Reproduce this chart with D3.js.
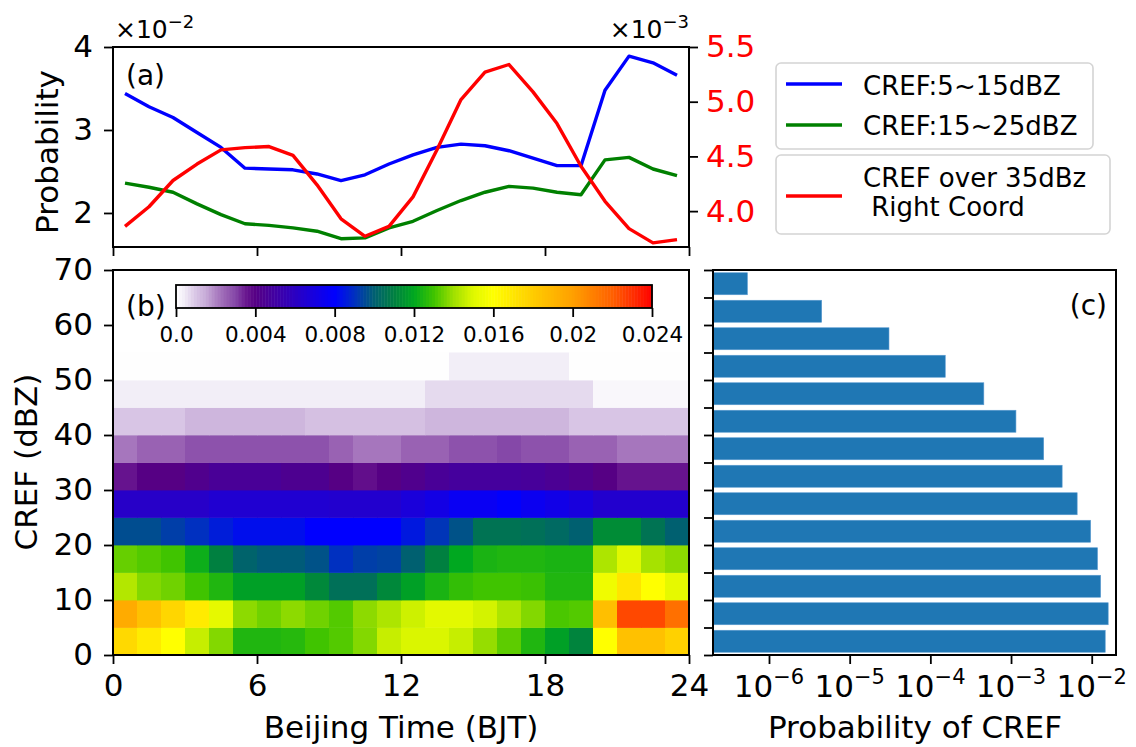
<!DOCTYPE html>
<html><head><meta charset="utf-8">
<script src="https://cdn.jsdelivr.net/npm/d3@7"></script>
<style>
body{margin:0;background:#fff}
svg{display:block}
text{font-family:"DejaVu Sans",sans-serif}
</style>
</head><body>
<svg id="c" width="1136" height="747"></svg>
<script>
// ---------- DATA ----------
const hours = d3.range(24).map(h => h + 0.5);               // hour centres (BJT)
// panel (a): probabilities (left axis in units of 1e-2, right axis in units of 1e-3)
const blue5to15 = [3.44,3.28,3.15,2.97,2.79,2.54,2.53,2.52,2.47,2.39,2.46,2.59,2.70,2.79,2.83,2.81,2.75,2.66,2.57,2.57,3.48,3.89,3.81,3.66];
const green15to25 = [2.36,2.31,2.25,2.11,1.98,1.87,1.85,1.82,1.78,1.69,1.70,1.82,1.90,2.03,2.15,2.25,2.32,2.30,2.25,2.22,2.64,2.67,2.53,2.45];
const red35 = [3.86,4.04,4.28,4.43,4.56,4.58,4.59,4.51,4.24,3.93,3.77,3.86,4.13,4.56,5.02,5.27,5.34,5.09,4.80,4.41,4.09,3.84,3.71,3.74];
const legendLabels = ["CREF:5~15dBZ","CREF:15~25dBZ"];
const legendLabelRed = ["CREF over 35dBz"," Right Coord"];
const leftTicks = [2,3,4];
const rightTicks = [4.0,4.5,5.0,5.5];
const timeTicks = [0,6,12,18,24];

// panel (b): probability per hour (columns) and 5-dBZ bin (rows, lower edge)
const heatBins = [0,5,10,15,20,25,30,35,40,45,50];
const heat0 = [0.0175,0.0168,0.0160,0.0146,0.0137,0.0125,0.0125,0.0126,0.0130,0.0132,0.0137,0.0146,0.0149,0.0149,0.0146,0.0139,0.0133,0.0125,0.0118,0.0111,0.0160,0.0185,0.0185,0.0178];
const heat5 = [0.0195,0.0185,0.0176,0.0168,0.0152,0.0138,0.0135,0.0138,0.0135,0.0132,0.0138,0.0142,0.0147,0.0151,0.0151,0.0148,0.0142,0.0137,0.0131,0.0132,0.0186,0.0225,0.0225,0.0215];
const heat10 = [0.0143,0.0137,0.0135,0.0130,0.0125,0.0118,0.0118,0.0118,0.0112,0.0105,0.0105,0.0112,0.0118,0.0124,0.0128,0.0130,0.0130,0.0129,0.0125,0.0125,0.0155,0.0170,0.0160,0.0152];
const heat15 = [0.0134,0.0132,0.0130,0.0122,0.0110,0.0101,0.0099,0.0099,0.0097,0.0090,0.0093,0.0094,0.0100,0.0110,0.0120,0.0124,0.0125,0.0125,0.0124,0.0124,0.0142,0.0150,0.0141,0.0138];
const heat20 = [0.0096,0.0096,0.0093,0.0090,0.0086,0.0083,0.0083,0.0083,0.0080,0.0080,0.0080,0.0080,0.0085,0.0091,0.0097,0.0106,0.0106,0.0105,0.0103,0.0100,0.0113,0.0113,0.0106,0.0100];
const heat25 = [0.0062,0.0062,0.0062,0.0062,0.0065,0.0065,0.0065,0.0065,0.0065,0.0064,0.0064,0.0064,0.0068,0.0071,0.0076,0.0076,0.0079,0.0075,0.0072,0.0069,0.0064,0.0064,0.0064,0.0064];
const heat30 = [0.0036,0.0040,0.0040,0.0043,0.0046,0.0046,0.0046,0.0044,0.0044,0.0040,0.0037,0.0040,0.0043,0.0046,0.0048,0.0048,0.0048,0.0047,0.0045,0.0043,0.0040,0.0036,0.0036,0.0036];
const heat35 = [0.0022,0.0025,0.0025,0.0028,0.0028,0.0028,0.0028,0.0028,0.0028,0.0025,0.0022,0.0022,0.0025,0.0025,0.0028,0.0028,0.0030,0.0028,0.0028,0.0025,0.0025,0.0022,0.0022,0.0022];
const heat40 = [0.0010,0.0010,0.0010,0.0013,0.0013,0.0013,0.0013,0.0013,0.0011,0.0011,0.0011,0.0011,0.0011,0.0013,0.0013,0.0013,0.0013,0.0013,0.0013,0.0010,0.0010,0.0010,0.0010,0.0010];
const heat45 = [0.0004,0.0004,0.0004,0.0004,0.0004,0.0004,0.0004,0.0004,0.0004,0.0004,0.0004,0.0004,0.0004,0.0007,0.0007,0.0007,0.0007,0.0007,0.0007,0.0007,0.0002,0.0002,0.0002,0.0002];
const heat50 = [0.00003,0.00003,0.00003,0.00003,0.00003,0.00003,0.00003,0.00003,0.00003,0.00003,0.00003,0.00003,0.00003,0.00003,0.0004,0.0004,0.0004,0.0004,0.0004,0.00003,0.00003,0.00003,0.00003,0.00003];
const heatRows = [heat0,heat5,heat10,heat15,heat20,heat25,heat30,heat35,heat40,heat45,heat50];
const crefTicks = [0,10,20,30,40,50,60,70];
const cbarTicks = [0,0.004,0.008,0.012,0.016,0.02,0.024];
const cbarTickLabels = ["0.0","0.004","0.008","0.012","0.016","0.02","0.024"];

// panel (c): probability of each 5-dBZ CREF bin
const barBins = [0,5,10,15,20,25,30,35,40,45,50,55,60,65];
const barProb = [1.47e-2,1.60e-2,1.29e-2,1.18e-2,9.7e-3,6.6e-3,4.3e-3,2.54e-3,1.15e-3,4.6e-4,1.53e-4,3.07e-5,4.5e-6,5.4e-7];
const logTicks = [1e-6,1e-5,1e-4,1e-3,1e-2];

// colormap
const cmapStops = [0,0.0004,0.001,0.0015,0.002,0.0025,0.003,0.0035,0.004,0.006,0.008,0.009,0.010,0.011,0.012,0.013,0.014,0.015,0.016,0.018,0.020,0.022,0.024];
const cmapColors = ["#ffffff","#f2eef7","#d8c5e5","#c8acd8","#ae84c4","#9962b3","#8548a8","#6a1890","#560084","#2b00c2","#0000ff","#0030c0","#006070","#008040","#00a820","#40c400","#a0e000","#e0f800","#ffff00","#ffcc00","#ffa000","#ff6000","#ff0000"];

// ---------- DRAW ----------
const svg = d3.select("#c");
const FS = 31;
const color = d3.scaleLinear().domain(cmapStops).range(cmapColors).interpolate(d3.interpolateRgb).clamp(true);

function styleAxis(g, fs, fill) {
  g.selectAll(".domain").remove();
  g.selectAll(".tick line").attr("stroke","#000").attr("stroke-width",1.8);
  g.selectAll(".tick text").attr("font-size",fs).attr("font-family","DejaVu Sans").attr("fill",fill || "#000");
}
function frame(x0,y0,x1,y1){
  svg.append("rect").attr("x",x0).attr("y",y0).attr("width",x1-x0).attr("height",y1-y0)
    .attr("fill","none").attr("stroke","#000").attr("stroke-width",2);
}

// ===== Panel (a) =====
const A = {l:113, r:689, t:47, b:247};
const xT = d3.scaleLinear([0,24],[A.l,A.r]);
const yL = d3.scaleLinear([1.59,4.0],[A.b,A.t]);
const yR = d3.scaleLinear([3.672,5.5],[A.b,A.t]);

svg.append("clipPath").attr("id","clipA").append("rect")
  .attr("x",A.l).attr("y",A.t).attr("width",A.r-A.l).attr("height",A.b-A.t);
const line = (ys) => d3.line().x((d,i)=>xT(hours[i])).y(d=>ys(d));
const gA = svg.append("g").attr("clip-path","url(#clipA)");
gA.append("path").datum(blue5to15).attr("d",line(yL)).attr("fill","none").attr("stroke","#0000ff").attr("stroke-width",3.4).attr("stroke-linejoin","round");
gA.append("path").datum(green15to25).attr("d",line(yL)).attr("fill","none").attr("stroke","#008000").attr("stroke-width",3.4).attr("stroke-linejoin","round");
gA.append("path").datum(red35).attr("d",line(yR)).attr("fill","none").attr("stroke","#ff0000").attr("stroke-width",3.4).attr("stroke-linejoin","round");

svg.append("g").attr("transform",`translate(${A.l},0)`)
  .call(d3.axisLeft(yL).tickValues(leftTicks).tickFormat(d3.format("d")).tickSize(9).tickPadding(11))
  .call(g=>styleAxis(g,FS));
svg.append("g").attr("transform",`translate(${A.r},0)`)
  .call(d3.axisRight(yR).tickValues(rightTicks).tickFormat(d3.format(".1f")).tickSize(9).tickPadding(8))
  .call(g=>styleAxis(g,FS,"#ff0000"));
svg.append("g").attr("transform",`translate(0,${A.b})`)
  .call(d3.axisBottom(xT).tickValues(timeTicks).tickFormat("").tickSize(9))
  .call(g=>styleAxis(g,FS));
frame(A.l,A.t,A.r,A.b);

// offset texts
function sciText(x,y,exp,anchor){
  const t = svg.append("text").attr("x",x).attr("y",y).attr("font-size",25).attr("text-anchor",anchor).attr("fill","#000");
  t.append("tspan").text("×10");
  t.append("tspan").attr("dy",-10).attr("font-size",18).text("−"+exp);
}
sciText(115,38,"2","start");
sciText(689,38,"3","end");

svg.append("text").attr("x",126).attr("y",85).attr("font-size",28).text("(a)");
svg.append("text").attr("transform","translate(58,152) rotate(-90)").attr("text-anchor","middle").attr("font-size",FS).text("Probability");

// legend
function legendBox(x,y,w,h){
  svg.append("rect").attr("x",x).attr("y",y).attr("width",w).attr("height",h).attr("rx",5)
    .attr("fill","#fff").attr("fill-opacity",0.85).attr("stroke","#d4d4d4").attr("stroke-width",1.6);
}
legendBox(776,63,317,86);
legendBox(776,155,334,79);
[["#0000ff",84,95],["#008000",125,135]].forEach((d,i)=>{
  svg.append("line").attr("x1",786).attr("x2",842).attr("y1",d[1]).attr("y2",d[1]).attr("stroke",d[0]).attr("stroke-width",3.4);
  svg.append("text").attr("x",863).attr("y",d[2]).attr("font-size",26).text(legendLabels[i]);
});
svg.append("line").attr("x1",786).attr("x2",842).attr("y1",196).attr("y2",196).attr("stroke","#ff0000").attr("stroke-width",3.4);
svg.append("text").attr("x",863).attr("y",187).attr("font-size",26).text(legendLabelRed[0]);
svg.append("text").attr("x",863).attr("y",216).attr("font-size",26).attr("xml:space","preserve").style("white-space","pre").text(legendLabelRed[1]);

// ===== Panel (b) =====
const B = {l:113, r:689, t:270, b:655};
const yC = d3.scaleLinear([0,70],[B.b,B.t]);
heatRows.forEach((row,ri)=>{
  const lo = heatBins[ri];
  svg.append("g").selectAll("rect").data(row).join("rect")
    .attr("x",(d,i)=>xT(i)).attr("width",(d,i)=>xT(i+1)-xT(i)+0.4)
    .attr("y",yC(lo+5)).attr("height",yC(lo)-yC(lo+5)+0.4)
    .attr("fill",d=>color(d));
});
svg.append("g").attr("transform",`translate(${B.l},0)`)
  .call(d3.axisLeft(yC).tickValues(crefTicks).tickSize(9).tickPadding(11))
  .call(g=>styleAxis(g,FS));
svg.append("g").attr("transform",`translate(0,${B.b})`)
  .call(d3.axisBottom(xT).tickValues(timeTicks).tickSize(9).tickPadding(10))
  .call(g=>styleAxis(g,FS));
frame(B.l,B.t,B.r,B.b);

// colorbar
const cb = {l:176, r:652, t:285, b:308};
const xCb = d3.scaleLinear([0,0.024],[cb.l,cb.r]);
const nSeg = 160;
svg.append("g").selectAll("rect").data(d3.range(nSeg)).join("rect")
  .attr("x",i=>xCb(0.024*i/nSeg)).attr("width",(cb.r-cb.l)/nSeg+0.5)
  .attr("y",cb.t).attr("height",cb.b-cb.t)
  .attr("fill",i=>color(0.024*(i+0.5)/nSeg));
svg.append("rect").attr("x",cb.l).attr("y",cb.t).attr("width",cb.r-cb.l).attr("height",cb.b-cb.t)
  .attr("fill","none").attr("stroke","#000").attr("stroke-width",1.8);
svg.append("g").attr("transform",`translate(0,${cb.b})`)
  .call(d3.axisBottom(xCb).tickValues(cbarTicks).tickFormat((d,i)=>cbarTickLabels[i]).tickSize(9).tickPadding(10))
  .call(g=>styleAxis(g,21.5));

svg.append("text").attr("x",126).attr("y",316).attr("font-size",28).text("(b)");
svg.append("text").attr("transform","translate(37,462) rotate(-90)").attr("text-anchor","middle").attr("font-size",FS).text("CREF (dBZ)");
svg.append("text").attr("x",401).attr("y",738).attr("text-anchor","middle").attr("font-size",FS).text("Beijing Time (BJT)");

// ===== Panel (c) =====
const Cp = {l:713, r:1116, t:270, b:655};
const xLog = d3.scaleLog([Math.pow(10,-6.694),Math.pow(10,-1.699)],[Cp.l,Cp.r]);
svg.append("g").selectAll("rect").data(barProb).join("rect")
  .attr("x",Cp.l).attr("width",d=>xLog(d)-Cp.l)
  .attr("y",(d,i)=>yC(barBins[i]+4.5)).attr("height",(d,i)=>yC(barBins[i]+0.5)-yC(barBins[i]+4.5))
  .attr("fill","#1f77b4").attr("stroke","#5b9bd0").attr("stroke-width",0.6);
svg.append("g").attr("transform",`translate(${Cp.l},0)`)
  .call(d3.axisLeft(yC).tickValues(d3.range(0,71,5)).tickFormat("").tickSize(9))
  .call(g=>styleAxis(g,FS));
svg.append("g").attr("transform",`translate(0,${Cp.b})`)
  .call(d3.axisBottom(xLog).tickValues(logTicks).tickFormat("").tickSize(9))
  .call(g=>styleAxis(g,FS));
logTicks.forEach(v=>{
  const t = svg.append("text").attr("x",xLog(v)).attr("y",697).attr("text-anchor","middle").attr("font-size",FS);
  t.append("tspan").text("10");
  t.append("tspan").attr("dy",-13).attr("font-size",21).text("−"+Math.round(-Math.log10(v)));
});
frame(Cp.l,Cp.t,Cp.r,Cp.b);
svg.append("text").attr("x",1107).attr("y",315).attr("text-anchor","end").attr("font-size",28).text("(c)");
svg.append("text").attr("x",915).attr("y",738).attr("text-anchor","middle").attr("font-size",FS).text("Probability of CREF");
</script>
</body></html>
